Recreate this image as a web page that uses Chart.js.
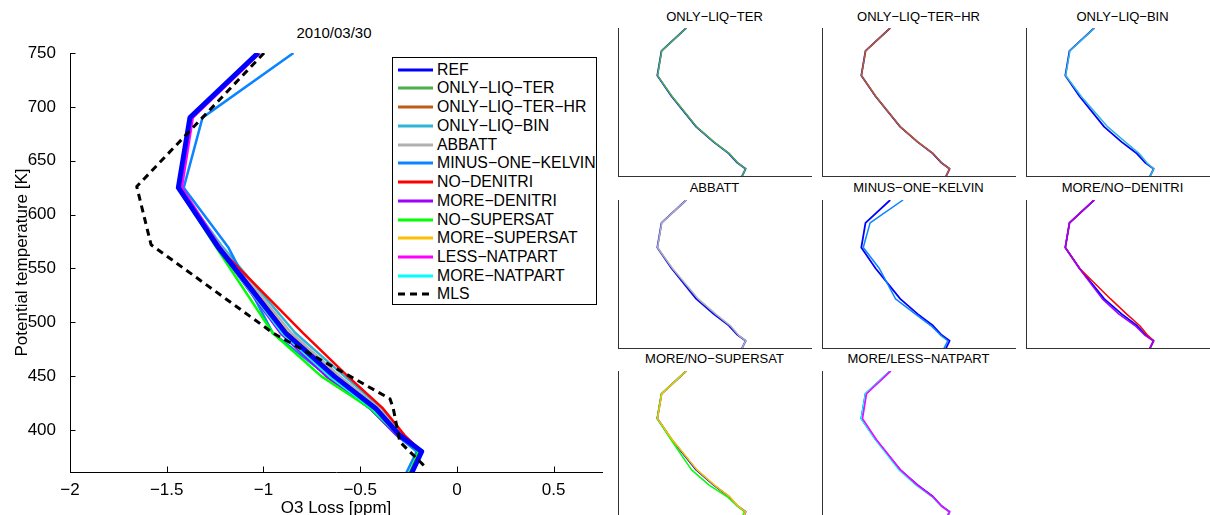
<!DOCTYPE html>
<html>
<head>
<meta charset="utf-8">
<script src="https://cdn.jsdelivr.net/npm/chart.js@4.4.0/dist/chart.umd.min.js"></script>
<style>
html,body{margin:0;padding:0;background:#fff;overflow:hidden;width:1210px;height:515px;}
body{position:relative;font-family:'Liberation Sans',Arial,Helvetica,sans-serif;color:#000;}
canvas{position:absolute;}
.ttl{position:absolute;text-align:center;white-space:nowrap;color:#000;}
#legend{position:absolute;left:392px;top:57px;width:205px;height:248px;border:1px solid #000;background:#fff;box-sizing:border-box;}
.lrow{position:absolute;left:0;width:200px;height:18px;}
.lrow svg{position:absolute;left:5px;top:6px;}
.lrow span{position:absolute;left:44px;top:0;font-size:15.8px;line-height:18px;white-space:nowrap;}
</style>
</head>
<body>
<div class="ttl" id="mainTitle" style="left:234px;top:24px;width:200px;font-size:15px;line-height:18px;">2010/03/30</div>
<canvas id="main" width="610" height="520" style="left:0;top:0;"></canvas>
<div id="legend"></div>
<script>
// ---------- data ----------
const thetaLevels      = [750, 690, 625, 570, 490, 450, 420, 395, 380, 360];
const lossREF          = [-1.028, -1.380, -1.440, -1.235, -0.885, -0.635, -0.420, -0.295, -0.182, -0.234];
const lossOnlyLiqTer   = [-1.025, -1.377, -1.437, -1.228, -0.878, -0.628, -0.414, -0.291, -0.181, -0.232];
const lossOnlyLiqTerHR = [-1.027, -1.379, -1.439, -1.232, -0.882, -0.632, -0.417, -0.293, -0.182, -0.233];
const lossOnlyLiqBin   = [-1.024, -1.375, -1.435, -1.212, -0.835, -0.582, -0.386, -0.276, -0.180, -0.232];
const lossAbbatt       = [-1.026, -1.377, -1.437, -1.222, -0.856, -0.606, -0.401, -0.284, -0.181, -0.233];
const lossMinusOneK    = [-0.845, -1.315, -1.412, -1.183, -0.952, -0.668, -0.450, -0.312, -0.208, -0.262];
const lossNoDenitri    = [-1.028, -1.380, -1.440, -1.235, -0.795, -0.565, -0.382, -0.270, -0.182, -0.234];
const lossMoreDenitri  = [-1.030, -1.382, -1.442, -1.240, -0.912, -0.676, -0.448, -0.310, -0.185, -0.236];
const lossNoSupersat   = [-1.029, -1.382, -1.442, -1.246, -0.952, -0.702, -0.447, -0.300, -0.198, -0.245];
const lossMoreSupersat = [-1.026, -1.378, -1.438, -1.229, -0.873, -0.625, -0.412, -0.290, -0.181, -0.233];
const lossLessNatpart  = [-1.018, -1.365, -1.422, -1.225, -0.882, -0.642, -0.425, -0.298, -0.184, -0.236];
const lossMoreNatpart  = [-1.029, -1.382, -1.442, -1.240, -0.903, -0.660, -0.436, -0.302, -0.186, -0.237];
const mlsTheta         = [750, 626, 572, 490, 429, 420, 389, 366];
const mlsLoss          = [-0.997, -1.655, -1.581, -0.950, -0.346, -0.329, -0.295, -0.165];

const seriesNames = ['REF','ONLY\u2212LIQ\u2212TER','ONLY\u2212LIQ\u2212TER\u2212HR','ONLY\u2212LIQ\u2212BIN','ABBATT',
  'MINUS\u2212ONE\u2212KELVIN','NO\u2212DENITRI','MORE\u2212DENITRI','NO\u2212SUPERSAT','MORE\u2212SUPERSAT',
  'LESS\u2212NATPART','MORE\u2212NATPART','MLS'];
const xTickValues = [-2, -1.5, -1, -0.5, 0, 0.5];
const yTickValues = [400, 450, 500, 550, 600, 650, 700, 750];
const panelTitles = ['ONLY\u2212LIQ\u2212TER','ONLY\u2212LIQ\u2212TER\u2212HR','ONLY\u2212LIQ\u2212BIN','ABBATT',
  'MINUS\u2212ONE\u2212KELVIN','MORE/NO\u2212DENITRI','MORE/NO\u2212SUPERSAT','MORE/LESS\u2212NATPART'];

// ---------- styles ----------
const FONT = "'Liberation Sans', Arial, Helvetica, sans-serif";
const seriesValues = [lossREF, lossOnlyLiqTer, lossOnlyLiqTerHR, lossOnlyLiqBin, lossAbbatt, lossMinusOneK,
  lossNoDenitri, lossMoreDenitri, lossNoSupersat, lossMoreSupersat, lossLessNatpart, lossMoreNatpart];
const seriesColors = ['#0000ff','#4daf4a','#bf5b17','#2fb6d6','#b0b0b0','#0a84ff','#ff0000','#a000ff',
  '#00ff00','#ffbf00','#ff00ff','#00ffff','#000000'];
// which series appear in each small panel (besides REF)
const panelSeries = [[1],[2],[3],[4],[5],[6,7],[8,9],[11,10]];

function pts(vals, lev) { return vals.map((v, i) => ({x: v, y: lev[i]})); }
const fmt = v => (v < 0 ? '\u2212' + String(Math.abs(v)) : String(v));

// ---------- main chart ----------
const mainSets = [];
mainSets.push({label: seriesNames[12], data: pts(mlsLoss, mlsTheta), borderColor: '#000', borderWidth: 3,
  borderDash: [7, 5], order: 0});
mainSets.push({label: seriesNames[0], data: pts(lossREF, thetaLevels), borderColor: seriesColors[0], borderWidth: 5, order: 1});
for (let k = 1; k < 12; k++) {
  mainSets.push({label: seriesNames[k], data: pts(seriesValues[k], thetaLevels), borderColor: seriesColors[k],
    borderWidth: 2.5, order: 2 + (11 - k)});
}
mainSets.forEach(d => { d.showLine = true; d.pointRadius = 0; d.fill = false; d.borderJoinStyle = 'round'; d.tension = 0; });

const innerTicks = {
  id: 'innerTicks',
  afterDraw(chart) {
    const {ctx, chartArea: a, scales: {x, y}} = chart;
    ctx.save();
    ctx.strokeStyle = '#000'; ctx.lineWidth = 1;
    ctx.beginPath();
    x.ticks.forEach(t => { const px = Math.round(x.getPixelForValue(t.value)) + 0.5; ctx.moveTo(px, a.bottom); ctx.lineTo(px, a.bottom - 5.5); });
    y.ticks.forEach(t => { const py = Math.round(y.getPixelForValue(t.value)) + 0.5; ctx.moveTo(a.left, py); ctx.lineTo(a.left + 5.5, py); });
    ctx.stroke();
    ctx.restore();
  }
};

new Chart(document.getElementById('main'), {
  type: 'scatter',
  data: {datasets: mainSets},
  plugins: [innerTicks],
  options: {
    responsive: false, animation: false, events: [],
    layout: {padding: {left: 0, right: 8, top: 53, bottom: 0}},
    plugins: {legend: {display: false}, tooltip: {enabled: false}, title: {display: false}},
    scales: {
      x: {
        type: 'linear', min: -2, max: 0.75,
        afterBuildTicks: s => { s.ticks = xTickValues.map(v => ({value: v})); },
        afterFit: s => { s.height = 48; },
        ticks: {callback: v => fmt(v), color: '#000', font: {family: FONT, size: 17}, padding: 0, maxRotation: 0, autoSkip: false},
        grid: {display: false},
        border: {display: true, color: '#000', width: 1},
        title: {display: true, text: 'O3 Loss [ppm]', color: '#000', font: {family: FONT, size: 17}, padding: {top: 0, bottom: 1}}
      },
      y: {
        type: 'linear', min: 361, max: 750,
        afterBuildTicks: s => { s.ticks = yTickValues.map(v => ({value: v})); },
        afterFit: s => { s.width = 70; },
        ticks: {callback: v => String(v), color: '#000', font: {family: FONT, size: 17}, padding: 6, autoSkip: false},
        grid: {display: false},
        border: {display: true, color: '#000', width: 1},
        title: {display: true, text: 'Potential temperature [K]', color: '#000', font: {family: FONT, size: 17}, padding: {top: 12, bottom: 0}}
      }
    }
  }
});

// ---------- legend ----------
const legend = document.getElementById('legend');
seriesNames.forEach((name, i) => {
  const row = document.createElement('div');
  row.className = 'lrow';
  row.style.top = (12.7 + i * 18.73 - 9 - 1).toFixed(2) + 'px';
  const dash = i === 12 ? ' stroke-dasharray="7,5"' : '';
  row.innerHTML = '<svg width="36" height="6"><line x1="0" y1="3" x2="35" y2="3" stroke="' + seriesColors[i] +
    '" stroke-width="3"' + dash + '/></svg><span>' + name + '</span>';
  legend.appendChild(row);
});

// ---------- small panels ----------
const colLeft = [618, 822, 1026];
const rowTop = [28, 200, 371];
const titleY = [17.3, 188.3, 359.3];
const PW = 193, PH = 148, PAD = 3;
panelTitles.forEach((t, i) => {
  const c = i % 3, r = Math.floor(i / 3);
  const cv = document.createElement('canvas');
  cv.width = PW + 2 * PAD; cv.height = PH + 2 * PAD;
  cv.style.left = (colLeft[c] - PAD) + 'px';
  cv.style.top = (rowTop[r] - PAD) + 'px';
  document.body.appendChild(cv);
  const ttl = document.createElement('div');
  ttl.className = 'ttl';
  ttl.style.cssText = 'left:' + (colLeft[c] + PW / 2 - 100) + 'px;top:' + (titleY[r] - 8) + 'px;width:200px;font-size:13px;line-height:16px;';
  ttl.textContent = t;
  document.body.appendChild(ttl);
  const sets = [];
  const others = panelSeries[i];
  others.slice().reverse().forEach((k, j) => {
    sets.push({data: pts(seriesValues[k], thetaLevels), borderColor: seriesColors[k], borderWidth: 1.5, order: j});
  });
  sets.push({data: pts(lossREF, thetaLevels), borderColor: seriesColors[0], borderWidth: 1.8, order: 10});
  sets.forEach(d => { d.showLine = true; d.pointRadius = 0; d.fill = false; d.borderJoinStyle = 'round'; });
  new Chart(cv, {
    type: 'scatter',
    data: {datasets: sets},
    options: {
      responsive: false, animation: false, events: [],
      layout: {padding: PAD},
      plugins: {legend: {display: false}, tooltip: {enabled: false}},
      scales: {
        x: {type: 'linear', min: -2, max: 0.75, ticks: {display: false}, grid: {display: false},
            border: {display: true, color: '#333', width: 1}, afterFit: s => { s.height = 0; }},
        y: {type: 'linear', min: 361, max: 750, ticks: {display: false}, grid: {display: false},
            border: {display: true, color: '#333', width: 1}, afterFit: s => { s.width = 0; }}
      }
    }
  });
});
</script>
</body>
</html>
